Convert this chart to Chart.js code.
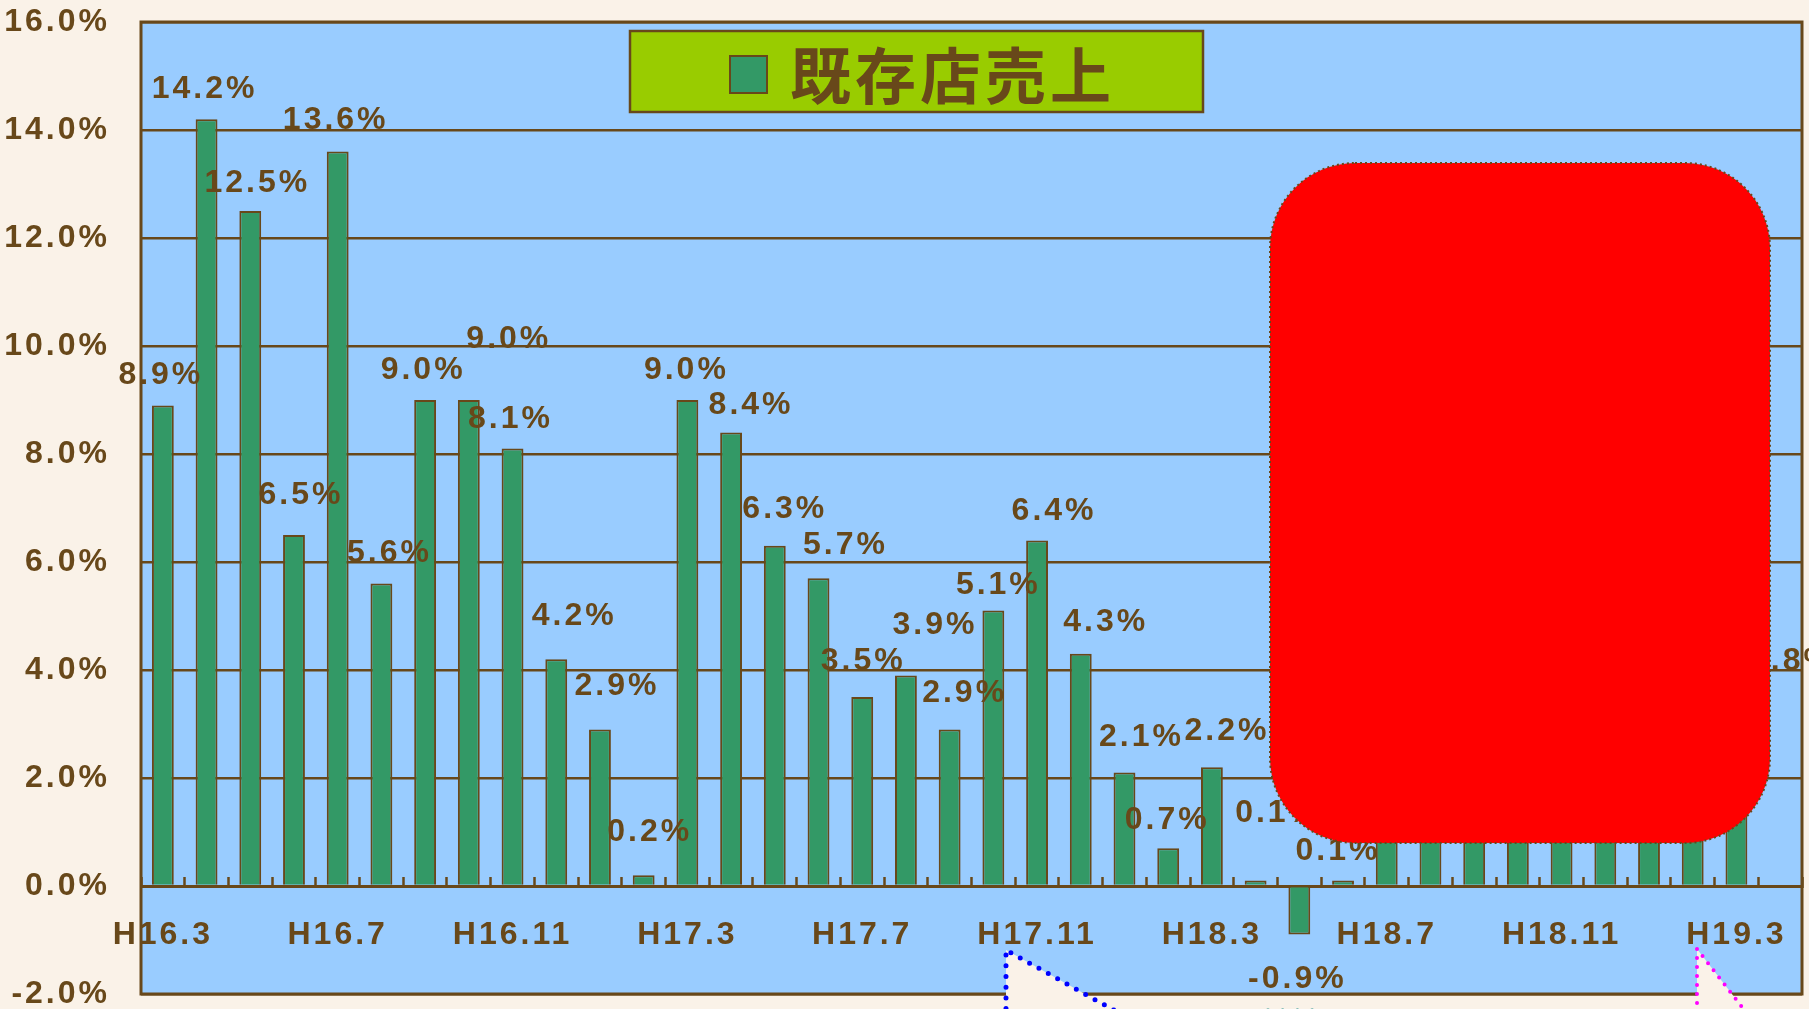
<!DOCTYPE html>
<html>
<head>
<meta charset="utf-8">
<script src="https://cdn.jsdelivr.net/npm/chart.js@4.4.1/dist/chart.umd.min.js"></script>
<style>
  html, body { margin: 0; padding: 0; background: #FAF2E8; }
</style>
</head>
<body>
<canvas id="myChart" width="1809" height="1009"></canvas>
<script>
// monthly categories, H16.3 .. H19.4 (last month has no figure yet)
var months = [
  'H16.3', 'H16.4', 'H16.5', 'H16.6', 'H16.7', 'H16.8', 'H16.9', 'H16.10', 'H16.11', 'H16.12',
  'H17.1', 'H17.2', 'H17.3', 'H17.4', 'H17.5', 'H17.6', 'H17.7', 'H17.8', 'H17.9', 'H17.10', 'H17.11', 'H17.12',
  'H18.1', 'H18.2', 'H18.3', 'H18.4', 'H18.5', 'H18.6', 'H18.7', 'H18.8', 'H18.9', 'H18.10', 'H18.11', 'H18.12',
  'H19.1', 'H19.2', 'H19.3', 'H19.4'
];
var sales = [
  8.9, 14.2, 12.5, 6.5, 13.6, 5.6, 9.0, 9.0, 8.1, 4.2,
  2.9, 0.2, 9.0, 8.4, 6.3, 5.7, 3.5, 3.9, 2.9, 5.1, 6.4, 4.3,
  2.1, 0.7, 2.2, 0.1, -0.9, 0.1, 2.0, 3.4, 2.6, 4.1, 2.9, 3.3,
  1.8, 4.5, 3.8, null
];
var tickLabels = ['H16.3', 'H16.7', 'H16.11', 'H17.3', 'H17.7', 'H17.11', 'H18.3', 'H18.7', 'H18.11', 'H19.3'];
var seriesName = '既存店売上';

// styles
var brown = '#68481A';
var cream = '#FAF2E8';
var plotBlue = '#99CCFF';
var barGreen = '#339966';
var numFont = "'Liberation Sans', Arial, sans-serif";

// hand placement of the value labels (dx, dy in px from the bar end)
var labelNudge = [
  [-2, -30], [-2, -30], [7, -28], [7, -40], [-2, -31], [8, -30], [-2, -30], [40, -61], [-2, -29], [18, -43],
  [17, -43], [6, -43], [-1, -30], [20, -27], [10, -37], [27, -33], [1, -36], [29, -50], [15, -36], [5, -25], [17, -29], [25, -32],
  [17, -35], [-1, -28], [15, -36], [22, -67], [-2, 45], [-5, -29], [15, -32], [15, -32], [15, -32], [15, -32], [15, -32], [15, -32],
  [15, -32], [15, -32], [56, -20], [0, 0]
];

var bgPlugin = {
  id: 'bg',
  beforeDraw: function (chart) {
    var ctx = chart.ctx, a = chart.chartArea;
    ctx.save();
    ctx.fillStyle = cream;
    ctx.fillRect(0, 0, chart.width, chart.height);
    ctx.fillStyle = plotBlue;
    ctx.fillRect(a.left, a.top, a.right - a.left, a.bottom - a.top);
    ctx.restore();
    ctx.letterSpacing = '3px';
  },
  beforeDatasetsDraw: function (chart) {
    var ctx = chart.ctx, a = chart.chartArea;
    ctx.save();
    ctx.strokeStyle = brown;
    ctx.lineWidth = 3;
    ctx.strokeRect(a.left, a.top, a.right - a.left, a.bottom - a.top);
    ctx.restore();
  }
};

var valueLabels = {
  id: 'valueLabels',
  afterDatasetsDraw: function (chart) {
    var ctx = chart.ctx;
    var meta = chart.getDatasetMeta(0);
    ctx.save();
    ctx.font = 'bold 32px ' + numFont;
    ctx.fillStyle = brown;
    ctx.textAlign = 'center';
    ctx.textBaseline = 'middle';
    ctx.letterSpacing = '3px';
    meta.data.forEach(function (bar, i) {
      var v = sales[i];
      if (v === null) return;
      var n = labelNudge[i];
      ctx.fillText(v.toFixed(1) + '%', bar.x + n[0], bar.y + n[1]);
    });
    ctx.restore();
  }
};

var overlays = {
  id: 'overlays',
  afterDraw: function (chart) {
    var ctx = chart.ctx;
    ctx.save();
    // legend box
    ctx.fillStyle = '#99CC00';
    ctx.fillRect(630, 31, 573, 81);
    ctx.strokeStyle = brown;
    ctx.lineWidth = 2.5;
    ctx.strokeRect(630, 31, 573, 81);
    ctx.fillStyle = barGreen;
    ctx.fillRect(730, 56, 37, 37);
    ctx.lineWidth = 2;
    ctx.strokeRect(730, 56, 37, 37);
    ctx.fillStyle = brown;
    ctx.font = "bold 61px 'Noto Sans CJK JP', sans-serif";
    ctx.textAlign = 'left';
    ctx.textBaseline = 'middle';
    ctx.letterSpacing = '4px';
    ctx.fillText(seriesName, 790, 76);

    // red rounded box
    ctx.letterSpacing = '0px';
    ctx.beginPath();
    ctx.roundRect(1270, 163, 500, 680, 85);
    ctx.fillStyle = '#FF0000';
    ctx.fill();
    ctx.setLineDash([2, 3]);
    ctx.lineWidth = 2;
    ctx.strokeStyle = brown;
    ctx.stroke();

    // callout tails coming up from below
    function tail(ax, ay, ex, ey, color, w, gap) {
      var yb = 1030;
      var xb = ax + (ex - ax) * (yb - ay) / (ey - ay);
      ctx.beginPath();
      ctx.moveTo(ax, yb);
      ctx.lineTo(ax, ay);
      ctx.lineTo(xb, yb);
      ctx.closePath();
      ctx.fillStyle = cream;
      ctx.fill();
      ctx.beginPath();
      ctx.moveTo(ax, yb);
      ctx.lineTo(ax, ay);
      ctx.lineTo(xb, yb);
      ctx.setLineDash([0, gap]);
      ctx.lineCap = 'round';
      ctx.lineWidth = w;
      ctx.strokeStyle = color;
      ctx.stroke();
    }
    tail(1006, 950, 1110, 1008, '#0000FF', 5, 10.7);
    tail(1697, 949, 1742, 1007, '#FF00FF', 4, 9);
    ctx.beginPath();
    ctx.moveTo(1268, 1011);
    ctx.lineTo(1314, 1011);
    ctx.setLineDash([0, 14.7]);
    ctx.lineWidth = 5;
    ctx.strokeStyle = '#008080';
    ctx.stroke();
    ctx.restore();
  }
};

var ctx = document.getElementById('myChart').getContext('2d');
var myBarChart = new Chart(ctx, {
  type: 'bar',
  data: {
    labels: months,
    datasets: [{
      label: seriesName,
      data: sales,
      backgroundColor: barGreen,
      borderColor: brown,
      borderWidth: 2,
      categoryPercentage: 1,
      barPercentage: 0.5
    }]
  },
  options: {
    responsive: false,
    animation: false,
    devicePixelRatio: 1,
    layout: { padding: { left: 0, top: 22, right: 7, bottom: 15 } },
    plugins: {
      legend: { display: false },
      tooltip: { enabled: false }
    },
    scales: {
      x: {
        position: { y: 0 },
        grid: {
          display: true,
          drawOnChartArea: false,
          drawTicks: true,
          tickLength: -11,
          tickColor: brown,
          tickWidth: 2.5,
          offset: true
        },
        border: { display: true, color: brown, width: 3 },
        ticks: {
          autoSkip: false,
          maxRotation: 0,
          minRotation: 0,
          padding: 41,
          color: brown,
          font: { family: numFont, size: 32, weight: 'bold' },
          callback: function (value, index) {
            var m = months[index];
            return tickLabels.indexOf(m) >= 0 ? m : '';
          }
        },
        afterFit: function (scale) {
          scale.paddingLeft = 0;
          scale.paddingRight = 0;
        }
      },
      y: {
        min: -2,
        max: 16,
        ticks: {
          stepSize: 2,
          padding: 31,
          color: brown,
          font: { family: numFont, size: 32, weight: 'bold' },
          callback: function (value) { return value.toFixed(1) + '%'; }
        },
        grid: { color: brown, lineWidth: 2.5, drawTicks: false },
        border: { display: false },
        afterFit: function (scale) {
          scale.width = 141;
          scale.paddingTop = 0;
          scale.paddingBottom = 0;
        }
      }
    }
  },
  plugins: [bgPlugin, valueLabels, overlays]
});
</script>
</body>
</html>
